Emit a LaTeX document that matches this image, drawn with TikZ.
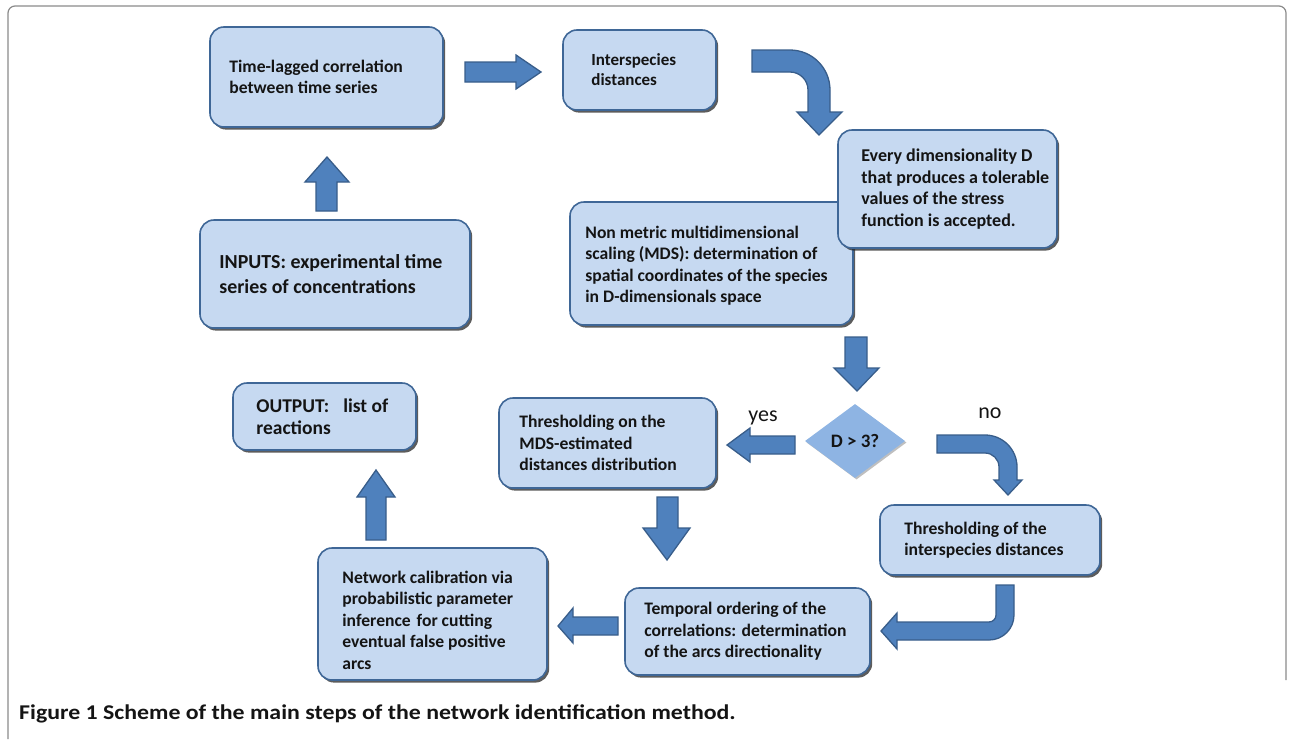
\documentclass[tikz,border=0pt]{standalone}
\usepackage{fontspec}
\setmainfont{Carlito}
\usetikzlibrary{shapes.geometric,shadows}
\definecolor{boxfill}{HTML}{C6D9F1}
\definecolor{boxline}{HTML}{3F6797}
\definecolor{arrfill}{HTML}{4F81BD}
\definecolor{arrline}{HTML}{385D8A}
\definecolor{diafill}{HTML}{8EB4E3}
\definecolor{txt}{HTML}{141414}
\definecolor{framecol}{HTML}{8A8A8A}
\tikzset{
  stepbox/.style={draw=boxline, fill=boxfill, line width=1.6pt, rounded corners=14pt,
    inner sep=0pt,
    drop shadow={shadow xshift=2.2pt, shadow yshift=-2.6pt, fill=black!85, opacity=0.75}},
  boxtext/.style={anchor=west, align=left, inner sep=0pt, text=txt,
    font=\bfseries\fontsize{17.6}{21.5}\selectfont},
  decision/.style={diamond, fill=diafill, minimum width=100pt, minimum height=74pt, inner sep=0pt,
    text=txt, font=\bfseries\fontsize{19}{22}\selectfont,
    drop shadow={shadow xshift=1.5pt, shadow yshift=-1.5pt, fill=black, opacity=0.25}},
  blockarrow/.style={fill=arrfill, draw=arrline, line width=1.3pt, line join=miter},
  lbl/.style={font=\fontsize{22}{24}\selectfont, text=txt},
}
\begin{document}
\begin{tikzpicture}[x=1pt, y=-1pt]
\useasboundingbox (0,0) rectangle (1292,739);
% outer frame
\draw[framecol, line width=1.2pt, rounded corners=7pt] (8,739) -- (8,6) -- (1286,6) -- (1286,680);

% boxes
\node[stepbox, minimum width=233pt, minimum height=100pt] (b1) at (326.5,77) {};
\node[boxtext, font=\bfseries\fontsize{17.6}{20.5}\selectfont] (b1t) at ([xshift=20pt]b1.west)
  {Time-lagged correlation\\between time series};

\node[stepbox, minimum width=153pt, minimum height=80pt] (b2) at (639.5,70) {};
\node[boxtext, font=\bfseries\fontsize{17}{20}\selectfont] (b2t) at ([xshift=29pt]b2.west)
  {Interspecies\\distances};

\node[stepbox, minimum width=283pt, minimum height=123pt] (b4) at (711.5,263.5) {};
\node[boxtext] (b4t) at ([xshift=16pt,yshift=-2pt]b4.west)
  {Non metric multidimensional\\scaling (MDS): determination of\\spatial coordinates of the species\\in D-dimensionals space};

\node[stepbox, minimum width=219pt, minimum height=118pt] (b3) at (947.5,189) {};
\node[boxtext, font=\bfseries\fontsize{18}{21.7}\selectfont] (b3t) at ([xshift=24pt]b3.west)
  {Every dimensionality D\\that produces a tolerable\\values of the stress\\function is accepted.};

\node[stepbox, minimum width=270pt, minimum height=108pt] (b5) at (335,274) {};
\node[boxtext, font=\bfseries\fontsize{19.9}{25}\selectfont] (b5t) at ([xshift=20pt]b5.west)
  {INPUTS: experimental time\\series of concentrations};

\node[stepbox, minimum width=183pt, minimum height=67pt] (b6) at (324.5,416.5) {};
\node[boxtext, font=\bfseries\fontsize{19.5}{22.5}\selectfont] (b6t) at ([xshift=24pt]b6.west)
  {OUTPUT:\hspace{14pt}list of\\reactions};

\node[stepbox, minimum width=217pt, minimum height=90pt] (b7) at (607.5,443) {};
\node[boxtext] (b7t) at ([xshift=21pt]b7.west)
  {Thresholding on the\\MDS-estimated\\distances distribution};

\node[decision] (d) at (855,441) {D > 3?};

\node[stepbox, minimum width=220pt, minimum height=70pt] (b9) at (990,540) {};
\node[boxtext] (b9t) at ([xshift=25pt]b9.west)
  {Thresholding of the\\interspecies distances};

\node[stepbox, minimum width=245pt, minimum height=87pt] (b10) at (747.5,631.5) {};
\node[boxtext] (b10t) at ([xshift=20pt]b10.west)
  {Temporal ordering of the\\correlations: determination\\of the arcs directionality};

\node[stepbox, minimum width=229pt, minimum height=132pt] (b11) at (432.5,614) {};
\node[boxtext] (b11t) at ([xshift=25pt,yshift=-6pt]b11.west)
  {Network calibration via\\probabilistic parameter\\inference\hspace{6pt}for cutting\\eventual false positive\\arcs};

% labels
\node[lbl] (yes) at (763,418) {yes};
\node[lbl] (no) at (990,413) {no};

% block arrows
% b1 -> b2
\draw[blockarrow] (465,62) -- (516,62) -- (516,55) -- (541,72) -- (516,89) -- (516,82) -- (465,82) -- cycle;
% b2 -> b3 (curved)
\draw[blockarrow] (752,50) -- (790,50) arc (90:0:40pt) -- (830,112) -- (842,112) -- (819,135)
  -- (797,112) -- (808,112) -- (808,90) arc (0:90:18pt) -- (752,72) -- cycle;
% b5 -> b1 (up)
\draw[blockarrow] (316,211) -- (316,182) -- (305,182) -- (327,157) -- (349,182) -- (337,182) -- (337,211) -- cycle;
% b4 -> d (down)
\draw[blockarrow] (845,337) -- (867,337) -- (867,368) -- (879,368) -- (857,391) -- (834,368) -- (845,368) -- cycle;
% d -> b7 (yes)
\draw[blockarrow] (795,436) -- (750,436) -- (750,428) -- (727,445) -- (750,462) -- (750,454) -- (795,454) -- cycle;
% d -> b9 (no, curved)
\draw[blockarrow] (937,435) -- (985,435) arc (90:0:32pt) -- (1017,480) -- (1022,480) -- (1008,495)
  -- (994,480) -- (999,480) -- (999,467) arc (0:90:14pt) -- (937,453) -- cycle;
% b7 -> b10 (down)
\draw[blockarrow] (657,497) -- (678,497) -- (678,528) -- (690,528) -- (667,560) -- (643,528) -- (657,528) -- cycle;
% b9 -> b10 (curved)
\draw[blockarrow] (996,585) -- (1014,585) -- (1014,615) arc (0:-90:25pt) -- (897,640) -- (897,649)
  -- (881,631) -- (897,613) -- (897,622) -- (989,622) arc (-90:0:7pt) -- cycle;
% b10 -> b11 (left)
\draw[blockarrow] (618,617) -- (573,617) -- (573,608) -- (558,626) -- (573,643) -- (573,635) -- (618,635) -- cycle;
% b11 -> b6 (up)
\draw[blockarrow] (366,540) -- (366,497) -- (357,497) -- (376,470) -- (395,497) -- (386,497) -- (386,540) -- cycle;

% caption
\node[anchor=base west, inner sep=0pt, text=txt, font=\bfseries\fontsize{21}{24}\selectfont] (cap) at (19,719)
  {\scalebox{1.135}[1]{Figure 1 Scheme of the main steps of the network identification method.}};
\end{tikzpicture}
\end{document}
